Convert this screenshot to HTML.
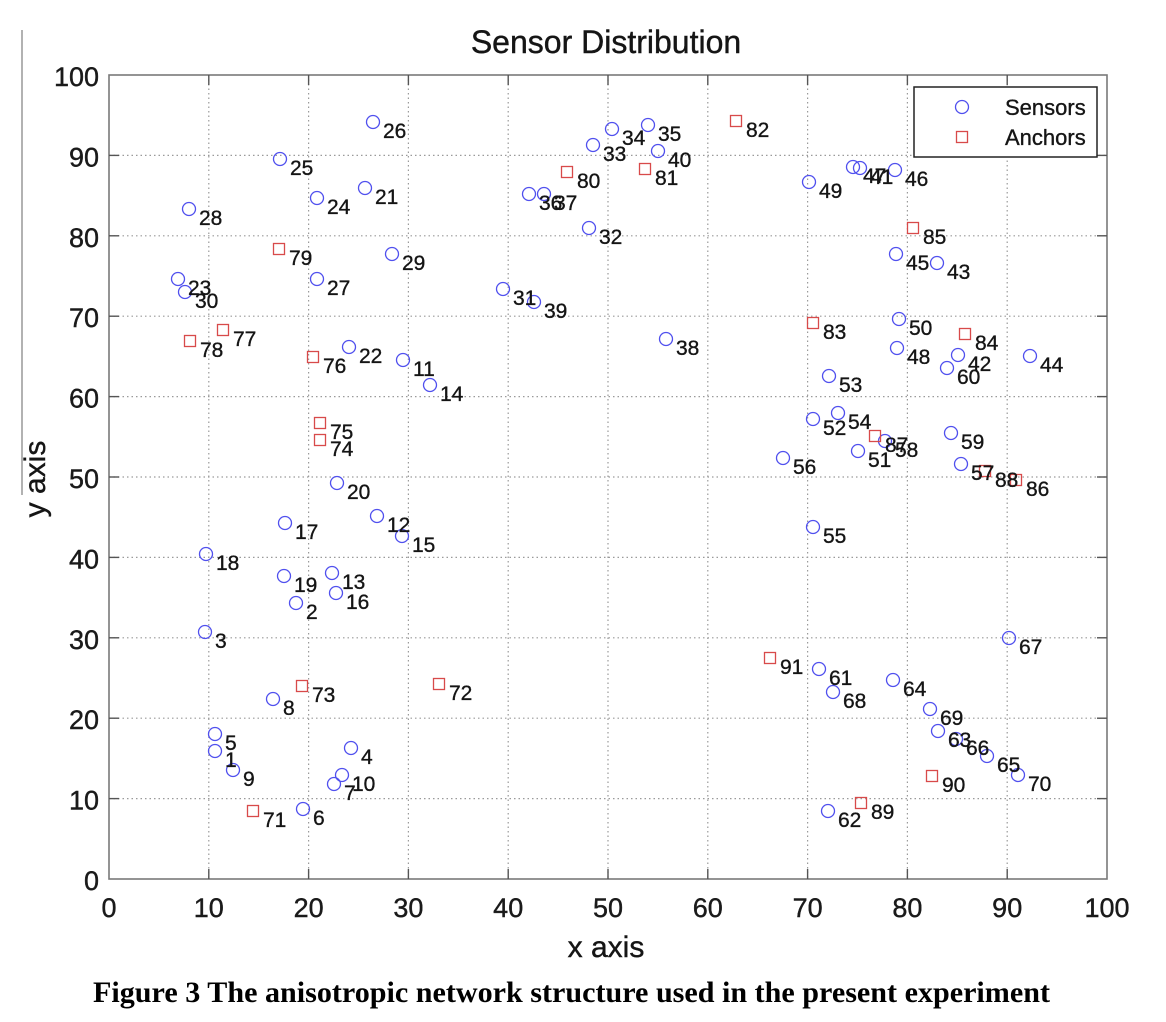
<!DOCTYPE html>
<html>
<head>
<meta charset="utf-8">
<style>
  html, body { margin: 0; padding: 0; background: #ffffff; }
  svg { display: block; }
  .lbl { font-family: "Liberation Sans", Arial, sans-serif; font-size: 21px; fill: #151515; stroke: #151515; stroke-width: 0.35; }
  .tick { font-family: "Liberation Sans", Arial, sans-serif; font-size: 27px; fill: #1a1a1a; stroke: #1a1a1a; stroke-width: 0.4; }
</style>
</head>
<body>
<svg width="1166" height="1022" viewBox="0 0 1166 1022" xmlns="http://www.w3.org/2000/svg">
  <rect x="0" y="0" width="1166" height="1022" fill="#ffffff"/>

  <!-- figure left edge line -->
  <line x1="22" y1="30" x2="22" y2="495" stroke="#999" stroke-width="1.5"/>

  <!-- title -->
  <text x="606" y="53" text-anchor="middle" font-family="Liberation Sans, Arial, sans-serif" font-size="32" fill="#151515" stroke="#151515" stroke-width="0.4">Sensor Distribution</text>

  <!-- grid -->
  <g stroke="#9a9a9a" stroke-width="1.2" stroke-dasharray="1.5,3" fill="none">
    <line x1="208.8" y1="75" x2="208.8" y2="879"/>
    <line x1="308.6" y1="75" x2="308.6" y2="879"/>
    <line x1="408.4" y1="75" x2="408.4" y2="879"/>
    <line x1="508.2" y1="75" x2="508.2" y2="879"/>
    <line x1="608" y1="75" x2="608" y2="879"/>
    <line x1="707.8" y1="75" x2="707.8" y2="879"/>
    <line x1="807.6" y1="75" x2="807.6" y2="879"/>
    <line x1="907.4" y1="75" x2="907.4" y2="879"/>
    <line x1="1007.2" y1="75" x2="1007.2" y2="879"/>
    <line x1="109" y1="798.6" x2="1107" y2="798.6"/>
    <line x1="109" y1="718.2" x2="1107" y2="718.2"/>
    <line x1="109" y1="637.8" x2="1107" y2="637.8"/>
    <line x1="109" y1="557.4" x2="1107" y2="557.4"/>
    <line x1="109" y1="477" x2="1107" y2="477"/>
    <line x1="109" y1="396.6" x2="1107" y2="396.6"/>
    <line x1="109" y1="316.2" x2="1107" y2="316.2"/>
    <line x1="109" y1="235.8" x2="1107" y2="235.8"/>
    <line x1="109" y1="155.4" x2="1107" y2="155.4"/>
  </g>

  <!-- axes box -->
  <rect x="109" y="75" width="998" height="804" fill="none" stroke="#7a7a7a" stroke-width="1.6"/>

  <!-- ticks -->
  <g stroke="#555" stroke-width="1.4">
    <line x1="208.8" y1="879" x2="208.8" y2="869"/><line x1="208.8" y1="75" x2="208.8" y2="85"/>
    <line x1="308.6" y1="879" x2="308.6" y2="869"/><line x1="308.6" y1="75" x2="308.6" y2="85"/>
    <line x1="408.4" y1="879" x2="408.4" y2="869"/><line x1="408.4" y1="75" x2="408.4" y2="85"/>
    <line x1="508.2" y1="879" x2="508.2" y2="869"/><line x1="508.2" y1="75" x2="508.2" y2="85"/>
    <line x1="608" y1="879" x2="608" y2="869"/><line x1="608" y1="75" x2="608" y2="85"/>
    <line x1="707.8" y1="879" x2="707.8" y2="869"/><line x1="707.8" y1="75" x2="707.8" y2="85"/>
    <line x1="807.6" y1="879" x2="807.6" y2="869"/><line x1="807.6" y1="75" x2="807.6" y2="85"/>
    <line x1="907.4" y1="879" x2="907.4" y2="869"/><line x1="907.4" y1="75" x2="907.4" y2="85"/>
    <line x1="1007.2" y1="879" x2="1007.2" y2="869"/><line x1="1007.2" y1="75" x2="1007.2" y2="85"/>
    <line x1="109" y1="798.6" x2="119" y2="798.6"/><line x1="1107" y1="798.6" x2="1097" y2="798.6"/>
    <line x1="109" y1="718.2" x2="119" y2="718.2"/><line x1="1107" y1="718.2" x2="1097" y2="718.2"/>
    <line x1="109" y1="637.8" x2="119" y2="637.8"/><line x1="1107" y1="637.8" x2="1097" y2="637.8"/>
    <line x1="109" y1="557.4" x2="119" y2="557.4"/><line x1="1107" y1="557.4" x2="1097" y2="557.4"/>
    <line x1="109" y1="477" x2="119" y2="477"/><line x1="1107" y1="477" x2="1097" y2="477"/>
    <line x1="109" y1="396.6" x2="119" y2="396.6"/><line x1="1107" y1="396.6" x2="1097" y2="396.6"/>
    <line x1="109" y1="316.2" x2="119" y2="316.2"/><line x1="1107" y1="316.2" x2="1097" y2="316.2"/>
    <line x1="109" y1="235.8" x2="119" y2="235.8"/><line x1="1107" y1="235.8" x2="1097" y2="235.8"/>
    <line x1="109" y1="155.4" x2="119" y2="155.4"/><line x1="1107" y1="155.4" x2="1097" y2="155.4"/>
  </g>

  <!-- y tick labels -->
  <g class="tick" text-anchor="end">
    <text x="99" y="890">0</text>
    <text x="99" y="809.6">10</text>
    <text x="99" y="729.2">20</text>
    <text x="99" y="648.8">30</text>
    <text x="99" y="568.4">40</text>
    <text x="99" y="488">50</text>
    <text x="99" y="407.6">60</text>
    <text x="99" y="327.2">70</text>
    <text x="99" y="246.8">80</text>
    <text x="99" y="166.4">90</text>
    <text x="99" y="86">100</text>
  </g>
  <!-- x tick labels -->
  <g class="tick" text-anchor="middle">
    <text x="109" y="917">0</text>
    <text x="208.8" y="917">10</text>
    <text x="308.6" y="917">20</text>
    <text x="408.4" y="917">30</text>
    <text x="508.2" y="917">40</text>
    <text x="608" y="917">50</text>
    <text x="707.8" y="917">60</text>
    <text x="807.6" y="917">70</text>
    <text x="907.4" y="917">80</text>
    <text x="1007.2" y="917">90</text>
    <text x="1107" y="917">100</text>
  </g>

  <!-- axis labels -->
  <text x="606" y="957" text-anchor="middle" font-family="Liberation Sans, Arial, sans-serif" font-size="30" fill="#151515" stroke="#151515" stroke-width="0.4">x axis</text>
  <text transform="translate(45,479) rotate(-90)" x="0" y="0" text-anchor="middle" font-family="Liberation Sans, Arial, sans-serif" font-size="30" fill="#151515" stroke="#151515" stroke-width="0.4">y axis</text>

  <!-- sensors -->
  <g fill="none" stroke="#5050ee" stroke-width="1.3">
    <circle cx="215" cy="751" r="6.5"/>
    <circle cx="296" cy="603" r="6.5"/>
    <circle cx="205" cy="632" r="6.5"/>
    <circle cx="351" cy="748" r="6.5"/>
    <circle cx="215" cy="734" r="6.5"/>
    <circle cx="303" cy="809" r="6.5"/>
    <circle cx="334" cy="784" r="6.5"/>
    <circle cx="273" cy="699" r="6.5"/>
    <circle cx="233" cy="770" r="6.5"/>
    <circle cx="342" cy="775" r="6.5"/>
    <circle cx="403" cy="360" r="6.5"/>
    <circle cx="377" cy="516" r="6.5"/>
    <circle cx="332" cy="573" r="6.5"/>
    <circle cx="430" cy="385" r="6.5"/>
    <circle cx="402" cy="536" r="6.5"/>
    <circle cx="336" cy="593" r="6.5"/>
    <circle cx="285" cy="523" r="6.5"/>
    <circle cx="206" cy="554" r="6.5"/>
    <circle cx="284" cy="576" r="6.5"/>
    <circle cx="337" cy="483" r="6.5"/>
    <circle cx="365" cy="188" r="6.5"/>
    <circle cx="349" cy="347" r="6.5"/>
    <circle cx="178" cy="279" r="6.5"/>
    <circle cx="317" cy="198" r="6.5"/>
    <circle cx="280" cy="159" r="6.5"/>
    <circle cx="373" cy="122" r="6.5"/>
    <circle cx="317" cy="279" r="6.5"/>
    <circle cx="189" cy="209" r="6.5"/>
    <circle cx="392" cy="254" r="6.5"/>
    <circle cx="185" cy="292" r="6.5"/>
    <circle cx="503" cy="289" r="6.5"/>
    <circle cx="589" cy="228" r="6.5"/>
    <circle cx="593" cy="145" r="6.5"/>
    <circle cx="612" cy="129" r="6.5"/>
    <circle cx="648" cy="125" r="6.5"/>
    <circle cx="529" cy="194" r="6.5"/>
    <circle cx="544" cy="194" r="6.5"/>
    <circle cx="666" cy="339" r="6.5"/>
    <circle cx="534" cy="302" r="6.5"/>
    <circle cx="658" cy="151" r="6.5"/>
    <circle cx="860" cy="168" r="6.5"/>
    <circle cx="958" cy="355" r="6.5"/>
    <circle cx="937" cy="263" r="6.5"/>
    <circle cx="1030" cy="356" r="6.5"/>
    <circle cx="896" cy="254" r="6.5"/>
    <circle cx="895" cy="170" r="6.5"/>
    <circle cx="853" cy="167" r="6.5"/>
    <circle cx="897" cy="348" r="6.5"/>
    <circle cx="809" cy="182" r="6.5"/>
    <circle cx="899" cy="319" r="6.5"/>
    <circle cx="858" cy="451" r="6.5"/>
    <circle cx="813" cy="419" r="6.5"/>
    <circle cx="829" cy="376" r="6.5"/>
    <circle cx="838" cy="413" r="6.5"/>
    <circle cx="813" cy="527" r="6.5"/>
    <circle cx="783" cy="458" r="6.5"/>
    <circle cx="961" cy="464" r="6.5"/>
    <circle cx="885" cy="441" r="6.5"/>
    <circle cx="951" cy="433" r="6.5"/>
    <circle cx="947" cy="368" r="6.5"/>
    <circle cx="819" cy="669" r="6.5"/>
    <circle cx="828" cy="811" r="6.5"/>
    <circle cx="938" cy="731" r="6.5"/>
    <circle cx="893" cy="680" r="6.5"/>
    <circle cx="987" cy="756" r="6.5"/>
    <circle cx="956" cy="739" r="6.5"/>
    <circle cx="1009" cy="638" r="6.5"/>
    <circle cx="833" cy="692" r="6.5"/>
    <circle cx="930" cy="709" r="6.5"/>
    <circle cx="1018" cy="775" r="6.5"/>
  </g>

  <!-- anchors -->
  <g fill="none" stroke="#d84a4a" stroke-width="1.3">
    <rect x="247.5" y="805.5" width="11" height="11"/>
    <rect x="433.5" y="678.5" width="11" height="11"/>
    <rect x="296.5" y="680.5" width="11" height="11"/>
    <rect x="314.5" y="434.5" width="11" height="11"/>
    <rect x="314.5" y="417.5" width="11" height="11"/>
    <rect x="307.5" y="351.5" width="11" height="11"/>
    <rect x="217.5" y="324.5" width="11" height="11"/>
    <rect x="184.5" y="335.5" width="11" height="11"/>
    <rect x="273.5" y="243.5" width="11" height="11"/>
    <rect x="561.5" y="166.5" width="11" height="11"/>
    <rect x="639.5" y="163.5" width="11" height="11"/>
    <rect x="730.5" y="115.5" width="11" height="11"/>
    <rect x="807.5" y="317.5" width="11" height="11"/>
    <rect x="959.5" y="328.5" width="11" height="11"/>
    <rect x="907.5" y="222.5" width="11" height="11"/>
    <rect x="1010.5" y="474.5" width="11" height="11"/>
    <rect x="869.5" y="430.5" width="11" height="11"/>
    <rect x="979.5" y="465.5" width="11" height="11"/>
    <rect x="855.5" y="797.5" width="11" height="11"/>
    <rect x="926.5" y="770.5" width="11" height="11"/>
    <rect x="764.5" y="652.5" width="11" height="11"/>
  </g>

  <!-- labels -->
  <g class="lbl">
    <text x="225" y="767">1</text>
    <text x="306" y="619">2</text>
    <text x="215" y="648">3</text>
    <text x="361" y="764">4</text>
    <text x="225" y="750">5</text>
    <text x="313" y="825">6</text>
    <text x="344" y="800">7</text>
    <text x="283" y="715">8</text>
    <text x="243" y="786">9</text>
    <text x="352" y="791">10</text>
    <text x="413" y="376">11</text>
    <text x="387" y="532">12</text>
    <text x="342" y="589">13</text>
    <text x="440" y="401">14</text>
    <text x="412" y="552">15</text>
    <text x="346" y="609">16</text>
    <text x="295" y="539">17</text>
    <text x="216" y="570">18</text>
    <text x="294" y="592">19</text>
    <text x="347" y="499">20</text>
    <text x="375" y="204">21</text>
    <text x="359" y="363">22</text>
    <text x="188" y="295">23</text>
    <text x="327" y="214">24</text>
    <text x="290" y="175">25</text>
    <text x="383" y="138">26</text>
    <text x="327" y="295">27</text>
    <text x="199" y="225">28</text>
    <text x="402" y="270">29</text>
    <text x="195" y="308">30</text>
    <text x="513" y="305">31</text>
    <text x="599" y="244">32</text>
    <text x="603" y="161">33</text>
    <text x="622" y="145">34</text>
    <text x="658" y="141">35</text>
    <text x="539" y="210">36</text>
    <text x="554" y="210">37</text>
    <text x="676" y="355">38</text>
    <text x="544" y="318">39</text>
    <text x="668" y="167">40</text>
    <text x="870" y="184">41</text>
    <text x="968" y="371">42</text>
    <text x="947" y="279">43</text>
    <text x="1040" y="372">44</text>
    <text x="906" y="270">45</text>
    <text x="905" y="186">46</text>
    <text x="863" y="183">47</text>
    <text x="907" y="364">48</text>
    <text x="819" y="198">49</text>
    <text x="909" y="335">50</text>
    <text x="868" y="467">51</text>
    <text x="823" y="435">52</text>
    <text x="839" y="392">53</text>
    <text x="848" y="429">54</text>
    <text x="823" y="543">55</text>
    <text x="793" y="474">56</text>
    <text x="971" y="480">57</text>
    <text x="895" y="457">58</text>
    <text x="961" y="449">59</text>
    <text x="957" y="384">60</text>
    <text x="829" y="685">61</text>
    <text x="838" y="827">62</text>
    <text x="948" y="747">63</text>
    <text x="903" y="696">64</text>
    <text x="997" y="772">65</text>
    <text x="966" y="755">66</text>
    <text x="1019" y="654">67</text>
    <text x="843" y="708">68</text>
    <text x="940" y="725">69</text>
    <text x="1028" y="791">70</text>
    <text x="263" y="827">71</text>
    <text x="449" y="700">72</text>
    <text x="312" y="702">73</text>
    <text x="330" y="456">74</text>
    <text x="330" y="439">75</text>
    <text x="323" y="373">76</text>
    <text x="233" y="346">77</text>
    <text x="200" y="357">78</text>
    <text x="289" y="265">79</text>
    <text x="577" y="188">80</text>
    <text x="655" y="185">81</text>
    <text x="746" y="137">82</text>
    <text x="823" y="339">83</text>
    <text x="975" y="350">84</text>
    <text x="923" y="244">85</text>
    <text x="1026" y="496">86</text>
    <text x="885" y="452">87</text>
    <text x="995" y="487">88</text>
    <text x="871" y="819">89</text>
    <text x="942" y="792">90</text>
    <text x="780" y="674">91</text>
  </g>

  <!-- legend -->
  <rect x="914" y="87" width="183" height="70" fill="#ffffff" stroke="#222" stroke-width="1.5"/>
  <circle cx="962" cy="107" r="6.5" fill="none" stroke="#5050ee" stroke-width="1.3"/>
  <rect x="956.5" y="131.5" width="11" height="11" fill="none" stroke="#d84a4a" stroke-width="1.3"/>
  <text x="1005" y="115" font-family="Liberation Sans, Arial, sans-serif" font-size="22" fill="#151515" stroke="#151515" stroke-width="0.35">Sensors</text>
  <text x="1005" y="145" font-family="Liberation Sans, Arial, sans-serif" font-size="22" fill="#151515" stroke="#151515" stroke-width="0.35">Anchors</text>

  <!-- caption -->
  <text x="93" y="1002" textLength="957" lengthAdjust="spacingAndGlyphs" font-family="Liberation Serif, Times New Roman, serif" font-weight="bold" font-size="30" fill="#000">Figure 3 The anisotropic network structure used in the present experiment</text>
</svg>
</body>
</html>
